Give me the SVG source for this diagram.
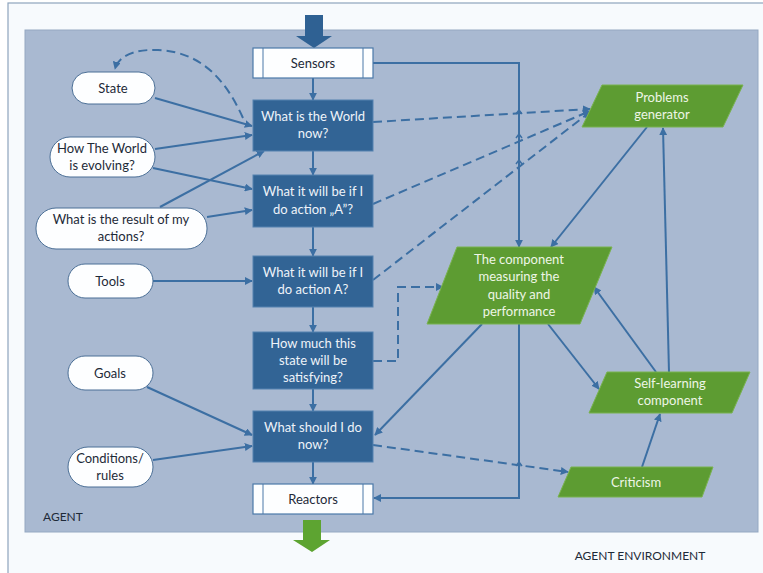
<svg xmlns="http://www.w3.org/2000/svg" width="763" height="573" viewBox="0 0 763 573">
<defs>
<marker id="ah" viewBox="0 0 10 10" refX="9" refY="5" markerWidth="8" markerHeight="8" markerUnits="userSpaceOnUse" orient="auto">
<path d="M0,0 L10,5 L0,10 z" fill="#3c6fa3"/>
</marker>
<style>
.dark rect{fill:#326495;stroke:#5482b0;stroke-width:1}
.dark text{fill:#eef3f9;font-family:Lato,"Liberation Sans",sans-serif;font-size:13px;text-anchor:middle}
.io rect{fill:#fdfeff;stroke:#4b79a8;stroke-width:1.2}
.io line{stroke:#4b79a8;stroke-width:1}
.io text{fill:#1e2a38;font-family:Lato,"Liberation Sans",sans-serif;font-size:13px;text-anchor:middle}
.pill rect{fill:#fdfeff;stroke:#4b6f96;stroke-width:1}
.pill text{fill:#1e2a38;font-family:Lato,"Liberation Sans",sans-serif;font-size:13px;text-anchor:middle}
.green polygon{fill:#5d9c32;stroke:#79b24f;stroke-width:1}
.green text{fill:#eef6e6;font-family:Lato,"Liberation Sans",sans-serif;font-size:13px;text-anchor:middle}
.c{fill:none;stroke:#3c6fa3;stroke-width:1.5}
.ca{fill:none;stroke:#3c6fa3;stroke-width:2;marker-end:url(#ah)}
.d{fill:none;stroke:#3c6fa3;stroke-width:2;stroke-dasharray:9,5;marker-end:url(#ah)}
.lbl{fill:#1e2a38;font-family:Lato,"Liberation Sans",sans-serif;font-size:12px}
</style>
</defs>
<rect x="0" y="0" width="763" height="573" fill="#ffffff"/>
<rect x="8" y="3" width="760" height="575" fill="#f7fafd" stroke="#8ea4bd" stroke-width="1.2"/>
<rect id="agent" x="25" y="30" width="733" height="502" fill="#a9b9d1" stroke="#95a8c2" stroke-width="1"/>
<text class="lbl" x="43" y="521">AGENT</text>
<text class="lbl" x="640" y="560" text-anchor="middle">AGENT ENVIRONMENT</text>

<path id="in-arrow" d="M305,15 H323 V36 H332 L314,48 L296,36 H305 Z" fill="#2f6193"/>
<path id="out-arrow" d="M303,520 H321 V540 H330 L312,552 L293,540 H303 Z" fill="#5da431"/>

<g id="connectors">
<line class="ca" x1="313" y1="78" x2="313" y2="100"/>
<line class="ca" x1="313" y1="151" x2="313" y2="175"/>
<line class="ca" x1="313" y1="227" x2="313" y2="256"/>
<line class="ca" x1="313" y1="307" x2="313" y2="332"/>
<line class="ca" x1="313" y1="389" x2="313" y2="411"/>
<line class="ca" x1="313" y1="462" x2="313" y2="484"/>
<line class="ca" x1="155" y1="98" x2="252" y2="126"/>
<line class="ca" x1="155" y1="149" x2="252" y2="135"/>
<line class="ca" x1="153" y1="168" x2="252" y2="189"/>
<line class="ca" x1="160" y1="207" x2="264" y2="151"/>
<line class="ca" x1="207" y1="217" x2="252" y2="210"/>
<line class="ca" x1="153" y1="281" x2="252" y2="281"/>
<line class="ca" x1="147" y1="387" x2="252" y2="435"/>
<line class="ca" x1="153" y1="460" x2="252" y2="446"/>
<path class="d" d="M243,118 C228,85 205,52 158,50 C132,49 118,57 115,69"/>
<path class="ca" d="M373,63 H519 V247"/>
<path class="ca" d="M519,324 V498 H374"/>
<line class="ca" x1="482" y1="324" x2="375" y2="435"/>
<line class="ca" x1="548" y1="324" x2="599" y2="389"/>
<line class="ca" x1="656" y1="372" x2="594" y2="287"/>
<line class="ca" x1="669" y1="372" x2="663" y2="128"/>
<line class="ca" x1="647" y1="127" x2="551" y2="247"/>
<line class="ca" x1="642" y1="467" x2="660" y2="414"/>
<path class="d" d="M373,122 L590,109"/>
<path class="d" d="M373,204 L590,111"/>
<path class="d" d="M373,280 L590,112"/>
<path class="d" d="M373,361 H398 V287 H443"/>
<path class="d" d="M373,445 L568,472"/>
<path class="c" d="M516,114 L519,110 L522,114"/>
<path class="c" d="M516,138 L519,134 L522,138"/>
<path class="c" d="M516,164 L519,160 L522,164"/>
<path class="c" d="M516,466 L519,462 L522,466"/>
</g>

<g id="sensors" class="io">
<rect x="253" y="48" width="120" height="30"/>
<line x1="263" y1="48" x2="263" y2="78"/><line x1="363" y1="48" x2="363" y2="78"/>
<text x="313" y="68">Sensors</text>
</g>
<g id="world-now" class="dark">
<rect x="253" y="100" width="120" height="51"/>
<text x="313" y="121">What is the World</text><text x="313" y="138">now?</text>
</g>
<g id="will-be-quoted" class="dark">
<rect x="253" y="175" width="120" height="52"/>
<text x="313" y="196">What it will be if I</text><text x="313" y="214">do action „A”?</text>
</g>
<g id="will-be" class="dark">
<rect x="253" y="256" width="120" height="51"/>
<text x="313" y="277">What it will be if I</text><text x="313" y="294">do action A?</text>
</g>
<g id="how-much" class="dark">
<rect x="253" y="332" width="120" height="57"/>
<text x="313" y="348">How much this</text><text x="313" y="365">state will be</text><text x="313" y="382">satisfying?</text>
</g>
<g id="should-do" class="dark">
<rect x="253" y="411" width="120" height="51"/>
<text x="313" y="432">What should I do</text><text x="313" y="449">now?</text>
</g>
<g id="reactors" class="io">
<rect x="253" y="484" width="120" height="30"/>
<line x1="263" y1="484" x2="263" y2="514"/><line x1="363" y1="484" x2="363" y2="514"/>
<text x="313" y="504">Reactors</text>
</g>

<g id="state" class="pill">
<rect x="72" y="72" width="83" height="32" rx="16"/>
<text x="113" y="93">State</text>
</g>
<g id="evolving" class="pill">
<rect x="50" y="137" width="105" height="40" rx="20"/>
<text x="102" y="153">How The World</text><text x="102" y="170">is evolving?</text>
</g>
<g id="result" class="pill">
<rect x="36" y="208" width="171" height="41" rx="20"/>
<text x="121" y="224">What is the result of my</text><text x="121" y="241">actions?</text>
</g>
<g id="tools" class="pill">
<rect x="68" y="264" width="85" height="34" rx="17"/>
<text x="110" y="286">Tools</text>
</g>
<g id="goals" class="pill">
<rect x="68" y="356" width="85" height="34" rx="17"/>
<text x="110" y="378">Goals</text>
</g>
<g id="conditions" class="pill">
<rect x="68" y="447" width="85" height="40" rx="20"/>
<text x="110" y="463">Conditions/</text><text x="110" y="480">rules</text>
</g>

<g id="problems" class="green">
<polygon points="602,85 743,85 723,127 582,127"/>
<text x="662" y="102">Problems</text><text x="662" y="119">generator</text>
</g>
<g id="component" class="green">
<polygon points="457,247 612,247 580,324 427,324"/>
<text x="519" y="264">The component</text><text x="519" y="281">measuring the</text><text x="519" y="299">quality and</text><text x="519" y="316">performance</text>
</g>
<g id="self-learning" class="green">
<polygon points="607,372 750,372 732,413 589,413"/>
<text x="670" y="388">Self-learning</text><text x="670" y="405">component</text>
</g>
<g id="criticism" class="green">
<polygon points="571,467 713,467 702,497 558,497"/>
<text x="636" y="487">Criticism</text>
</g>
</svg>
